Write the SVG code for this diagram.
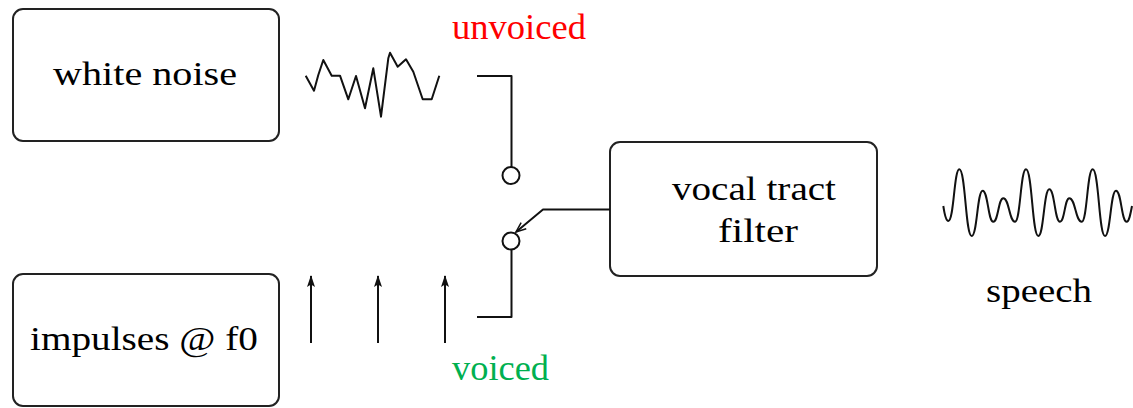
<svg xmlns="http://www.w3.org/2000/svg" width="1133" height="408" viewBox="0 0 1133 408">
  <defs>
    <style>
      .box { fill: #ffffff; stroke: #222222; stroke-width: 2; }
      .lbl { font-family: "Liberation Serif", "Times New Roman", serif; font-size: 34px; fill: #000000; }
      .sw { font-family: "Liberation Serif", "Times New Roman", serif; font-size: 36px; }
      .ln { fill: none; stroke: #111111; stroke-width: 2; stroke-linejoin: round; stroke-linecap: butt; }
      .wave { fill: none; stroke: #111111; stroke-width: 2; stroke-linejoin: round; }
    </style>
    <marker id="imp" viewBox="0 0 12 10" refX="11" refY="5" markerWidth="12" markerHeight="10" markerUnits="userSpaceOnUse" orient="auto">
      <path d="M12 5 L0 1 L2.5 5 L0 9 Z" fill="#111111"/>
    </marker>
    <marker id="sel" viewBox="0 0 12 10" refX="11" refY="5" markerWidth="12" markerHeight="10" markerUnits="userSpaceOnUse" orient="auto">
      <path d="M1 1 L11 5 L1 9" fill="none" stroke="#111111" stroke-width="1.5"/>
    </marker>
  </defs>
  <rect width="1133" height="408" fill="#ffffff"/>

  <g id="white-noise">
    <rect class="box" x="13" y="9" width="266" height="132" rx="10" ry="10"/>
    <text class="lbl" x="53" y="85" textLength="184" lengthAdjust="spacingAndGlyphs">white noise</text>
  </g>

  <g id="impulses">
    <rect class="box" x="13" y="274" width="266" height="132" rx="10" ry="10"/>
    <text class="lbl" x="30" y="350" textLength="228" lengthAdjust="spacingAndGlyphs">impulses @ f0</text>
  </g>

  <g id="vocal-tract-filter">
    <rect class="box" x="610" y="142" width="267" height="134" rx="10" ry="10"/>
    <text class="lbl" x="672" y="200" textLength="164" lengthAdjust="spacingAndGlyphs">vocal tract</text>
    <text class="lbl" x="718" y="242" textLength="80" lengthAdjust="spacingAndGlyphs">filter</text>
  </g>

  <g id="noise-wave">
    <polyline class="wave" points="305.7,75.7 314,90.7 318.3,75 323.3,60 331.7,75.7 340,75.7 348.3,99.3 356,76 365,108.3 373.3,68.3 381,116.7 388.3,58.3 390,52.7 397.7,66.7 406,59.3 413.3,71.7 422.7,99.3 431.7,99.3 439.3,75.7"/>
  </g>

  <g id="impulse-train">
    <line class="ln" x1="311" y1="343" x2="311" y2="276" marker-end="url(#imp)"/>
    <line class="ln" x1="378" y1="343" x2="378" y2="276" marker-end="url(#imp)"/>
    <line class="ln" x1="445" y1="343" x2="445" y2="276" marker-end="url(#imp)"/>
  </g>

  <g id="speech-wave">
    <path class="wave" d="M943.3,206 C944.5,214 946,221 948.3,221 C954,221 954,169.3 959.3,169.3 C965.5,169.3 965.5,236 971.7,236 C977.2,236 977.2,190.7 982.7,190.7 C988,190.7 988,221.7 993.3,221.7 C998.3,221.7 998.3,198.3 1003.3,198.3 C1009.2,198.3 1009.2,221.7 1015,221.7 C1020.5,221.7 1020.5,169.3 1026,169.3 C1032.2,169.3 1032.2,236 1038.3,236 C1043.8,236 1043.8,189.3 1049.3,189.3 C1054.7,189.3 1054.7,221.7 1060,221.7 C1064.7,221.7 1064.7,198.3 1069.3,198.3 C1075.5,198.3 1075.5,221.7 1081.7,221.7 C1087.2,221.7 1087.2,169.3 1092.7,169.3 C1098.9,169.3 1098.9,236 1105,236 C1110.5,236 1110.5,190.7 1116,190.7 C1121.4,190.7 1121.4,221.7 1126.7,221.7 C1129,221.7 1130.5,214 1132,206"/>
  </g>

  <g id="connectors">
    <polyline class="ln" points="477,76 511.5,76 511.5,167"/>
    <circle class="ln" cx="511" cy="175.5" r="8.5"/>
    <circle class="ln" cx="511" cy="241" r="8.5"/>
    <polyline class="ln" points="511.5,249.5 511.5,317 477,317"/>
    <polyline class="ln" points="610,209.5 543,209.5 516,232" marker-end="url(#sel)"/>
  </g>

  <g id="labels">
    <text class="sw" x="452" y="39" fill="#ff0000" textLength="134" lengthAdjust="spacingAndGlyphs">unvoiced</text>
    <text class="sw" x="452" y="380" fill="#00b050" textLength="97" lengthAdjust="spacingAndGlyphs">voiced</text>
    <text class="lbl" x="986" y="302" textLength="106" lengthAdjust="spacingAndGlyphs">speech</text>
  </g>
</svg>
